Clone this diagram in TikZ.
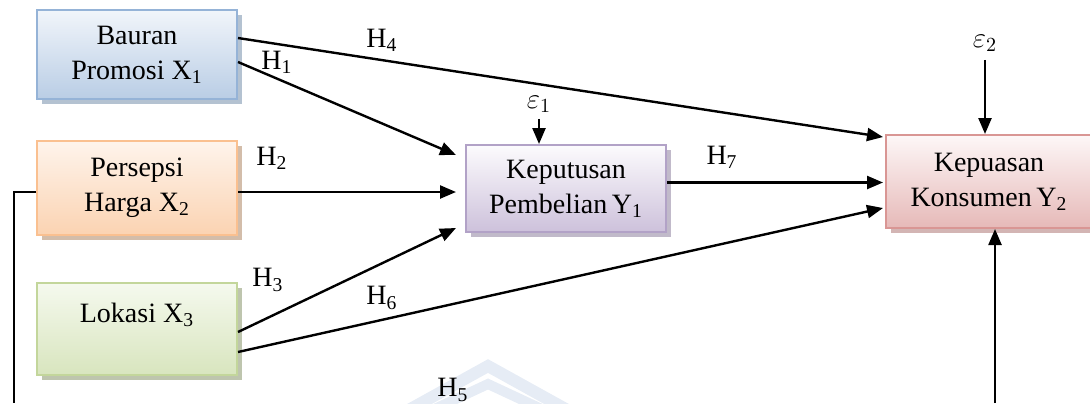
\documentclass[tikz,border=0pt]{standalone}
\usepackage{fontspec}
\setmainfont{Liberation Serif}
\usetikzlibrary{calc,arrows.meta,shadows}

\definecolor{blueLine}{HTML}{95B3D7}\definecolor{blueTop}{HTML}{F1F5FA}\definecolor{blueBot}{HTML}{B9CDE5}
\definecolor{orangeLine}{HTML}{FAC090}\definecolor{orangeTop}{HTML}{FEF4EC}\definecolor{orangeBot}{HTML}{FBD3B2}
\definecolor{greenLine}{HTML}{C3D69B}\definecolor{greenTop}{HTML}{F5F9EE}\definecolor{greenBot}{HTML}{D8E5BE}
\definecolor{purpleLine}{HTML}{B2A2C7}\definecolor{purpleTop}{HTML}{FCFBFD}\definecolor{purpleBot}{HTML}{CDC1DB}
\definecolor{redLine}{HTML}{D99694}\definecolor{redTop}{HTML}{FDF7F7}\definecolor{redBot}{HTML}{E6B9B8}
\definecolor{markColor}{HTML}{E6ECF5}

\begin{document}
\begin{tikzpicture}[x=0.5pt,y=-0.5pt,
    every node/.style={font=\fontsize{14}{17.5}\selectfont},
    var/.style={draw,line width=1pt,minimum width=100pt,inner sep=0pt,align=center},
    bluebox/.style={var,draw=blueLine,top color=blueTop,bottom color=blueBot,
      drop shadow={shadow xshift=2.5pt,shadow yshift=-2.5pt,fill=blueLine!80!black,opacity=.55}},
    orangebox/.style={var,draw=orangeLine,top color=orangeTop,bottom color=orangeBot,
      drop shadow={shadow xshift=2.5pt,shadow yshift=-2.5pt,fill=orangeLine!70!black,opacity=.55}},
    greenbox/.style={var,draw=greenLine,top color=greenTop,bottom color=greenBot,
      drop shadow={shadow xshift=2.5pt,shadow yshift=-2.5pt,fill=greenLine!70!black,opacity=.55}},
    purplebox/.style={var,draw=purpleLine,top color=purpleTop,bottom color=purpleBot,
      drop shadow={shadow xshift=2.5pt,shadow yshift=-2.5pt,fill=purpleLine!80!black,opacity=.55}},
    redbox/.style={var,draw=redLine,top color=redTop,bottom color=redBot,
      drop shadow={shadow xshift=2.5pt,shadow yshift=-2.5pt,fill=redLine!80!black,opacity=.55}},
    arr/.style={line width=1.2pt,-{Triangle[length=8pt,width=6.5pt]}},
    hyp/.style={inner sep=0pt}]
    \useasboundingbox (0,0) rectangle (1090,403);
    % faint watermark
    \draw[markColor,line width=6pt] (405,412)--(488,366)--(571,412);
    \draw[markColor,line width=5pt] (428,412)--(488,384)--(548,412);

    \node[bluebox,minimum height=44.5pt] (X1) at (137,54.5) {Bauran\\Promosi X\textsubscript{1}};
    \node[orangebox,minimum height=47pt] (X2) at (137,187.5) {Persepsi\\Harga X\textsubscript{2}};
    \node[greenbox,text height=19.5pt,text depth=26.5pt] (X3) at (137,329) {Lokasi X\textsubscript{3}};
    \node[purplebox,minimum height=43.5pt] (Y1) at (566,188.5) {Keputusan\\Pembelian\,Y\textsubscript{1}};
    \node[redbox,minimum width=103pt,minimum height=46.5pt] (Y2) at (989,181.5) {Kepuasan\\Konsumen\,Y\textsubscript{2}};

    \node[inner sep=1pt] (e1) at (539,104) {$\varepsilon_1$};
    \node[inner sep=1pt] (e2) at (985,43) {$\varepsilon_2$};
    \coordinate (h5a) at (14,403);
    \coordinate (h5b) at (995,403);

    \draw[arr] ($(X1.east)+(0,-16.5)$) -- ($(Y2.west)+(-2,-44.5)$);
    \draw[arr] ($(X1.east)+(0,7.5)$) -- ($(Y1.west)+(-9,-33.5)$);
    \draw[arr] ($(X2.east)+(0,4.5)$) -- ($(Y1.west)+(-9,3.5)$);
    \draw[arr] ($(X3.east)+(0,3)$) -- ($(Y1.west)+(-9,39.5)$);
    \draw[arr] ($(X3.east)+(0,23)$) -- ($(Y2.west)+(-2,26.5)$);
    \draw[arr] ($(Y1.east)+(0,-6)$) -- ($(Y2.west)+(-2,1)$);
    \draw[arr,shorten <=2pt] (e1.south) -- (e1.south |- Y1.north);
    \draw[arr,shorten <=3pt] (e2.south) -- (e2.south |- Y2.north);
    \draw[line width=1.2pt] ($(X2.west)+(0,4.5)$) -| (h5a);
    \draw[arr] (h5b) -- (h5b |- Y2.south);

    \node[hyp] (h4) at (382,40) {H\textsubscript{4}};
    \node[hyp] (h1) at (277,62) {H\textsubscript{1}};
    \node[hyp] (h2) at (272,158) {H\textsubscript{2}};
    \node[hyp] (h3) at (268,280) {H\textsubscript{3}};
    \node[hyp] (h6) at (382,298) {H\textsubscript{6}};
    \node[hyp] (h7) at (722,157) {H\textsubscript{7}};
    \node[hyp] (h5) at (453,390) {H\textsubscript{5}};
\end{tikzpicture}
\end{document}
